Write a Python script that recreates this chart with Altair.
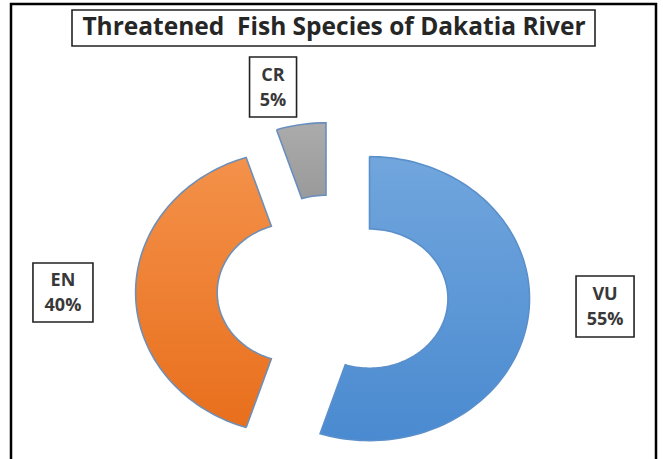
import numpy as np
import pandas as pd
import altair as alt

# Threatened fish species categories (IUCN) and their share in percent
categories = ["VU", "EN", "CR"]
shares = [55, 40, 5]
title_text = "Threatened \u00a0Fish Species of Dakatia River"

# ---- styling / layout (not data) ----
W, H = 663, 459
PX_X, PX_Y = 160.0, 142.0          # pixels per unit radius (slightly wide ellipse)
CX, CY = 326.0, 292.5              # donut centre in pixels
HOLE = 0.49                        # inner radius as a fraction of outer
# pull-out of each slice from the centre (units of outer radius)
explode = {"VU": (0.272, -0.043), "EN": (-0.19, 0.0), "CR": (0.0, 0.195)}
fills = {
    "VU": ["#71a6dd", "#4a8ad0"],
    "EN": ["#f4914a", "#e86f1c"],
    "CR": ["#ababab", "#9a9a9a"],
}
edges = {"VU": "#5a8fcb", "EN": "#6f8fb6", "CR": "#6a8fbf"}
# label box centres (units) and half sizes (px)
label_pos = {"VU": (1.744, -0.099), "EN": (-1.644, 0.0), "CR": (-0.331, 1.447)}
label_half = {"VU": (29, 30.5), "EN": (30, 29.5), "CR": (23.5, 30)}
FONT = "Open Sans"
LINE_H = 25

# ---- slice outlines built from the shares ----
total = float(sum(shares))
rows = []
start = 0.0
for cat, val in zip(categories, shares):
    a0 = start / total * 2 * np.pi
    a1 = (start + val) / total * 2 * np.pi
    start += val
    ox, oy = explode[cat]
    n = max(4, int(val * 2))
    outer = np.linspace(a0, a1, n)
    inner = np.linspace(a1, a0, n)
    pts = [(ox + np.sin(a), oy + np.cos(a)) for a in outer]
    pts += [(ox + HOLE * np.sin(a), oy + HOLE * np.cos(a)) for a in inner]
    pts.append(pts[0])
    for i, (px, py) in enumerate(pts):
        rows.append({"cat": cat, "i": i, "x": px, "y": py})
slices = pd.DataFrame(rows)

labels = pd.DataFrame({
    "cat": categories,
    "text": [f"{c}\n{v}%" for c, v in zip(categories, shares)],
})
labels["x"] = [label_pos[c][0] for c in categories]
labels["y"] = [label_pos[c][1] for c in categories]
labels["x0"] = labels["x"] - [label_half[c][0] / PX_X for c in categories]
labels["x1"] = labels["x"] + [label_half[c][0] / PX_X for c in categories]
labels["y0"] = labels["y"] - [label_half[c][1] / PX_Y for c in categories]
labels["y1"] = labels["y"] + [label_half[c][1] / PX_Y for c in categories]

xs = alt.Scale(domain=[-CX / PX_X, (W - CX) / PX_X], nice=False, zero=False)
ys = alt.Scale(domain=[(CY - H) / PX_Y, CY / PX_Y], nice=False, zero=False)
X = lambda f: alt.X(f, type="quantitative", scale=xs, axis=None)
Y = lambda f: alt.Y(f, type="quantitative", scale=ys, axis=None)

layers = []

# outer frame
layers.append(
    alt.Chart(pd.DataFrame({"k": [0]})).mark_rect(
        fill=None, stroke="#000000", strokeWidth=2.5
    ).encode(x=alt.value(11), x2=alt.value(656), y=alt.value(4), y2=alt.value(490))
)

# title box and text
layers.append(
    alt.Chart(pd.DataFrame({"k": [0]})).mark_rect(
        fill="white", stroke="#222222", strokeWidth=1.6
    ).encode(x=alt.value(72), x2=alt.value(595), y=alt.value(10), y2=alt.value(46))
)
layers.append(
    alt.Chart(pd.DataFrame({"t": [title_text]})).mark_text(
        font=FONT, fontSize=24.5, fontWeight="bold", color="#262626",
        align="center", baseline="middle"
    ).encode(x=alt.value(334), y=alt.value(28), text="t:N")
)

# donut slices
for cat in categories:
    c0, c1 = fills[cat]
    layers.append(
        alt.Chart(slices).transform_filter(alt.datum.cat == cat).mark_line(
            fill=alt.Gradient(
                gradient="linear", x1=0, y1=0, x2=0, y2=1,
                stops=[alt.GradientStop(color=c0, offset=0),
                       alt.GradientStop(color=c1, offset=1)],
            ),
            stroke=edges[cat], strokeWidth=1.6, interpolate="linear",
        ).encode(x=X("x"), y=Y("y"), order=alt.Order("i:Q"))
    )

# label boxes and labels
layers.append(
    alt.Chart(labels).mark_rect(fill="white", stroke="#222222", strokeWidth=1.6)
    .encode(x=X("x0"), x2="x1", y=Y("y0"), y2="y1")
)
layers.append(
    alt.Chart(labels).mark_text(
        font=FONT, fontSize=18, fontWeight="bold", color="#383838",
        align="center", baseline="middle", lineBreak="\n", lineHeight=LINE_H,
        dy=-LINE_H / 2 + 1,
    ).encode(x=X("x"), y=Y("y"), text="text:N")
)

chart = alt.layer(*layers).properties(
    width=W, height=H, padding=0, autosize=alt.AutoSizeParams(type="none"),
    background="white",
).configure_view(stroke=None)

chart.save("out.html", embed_options={"renderer": "svg", "actions": False})
